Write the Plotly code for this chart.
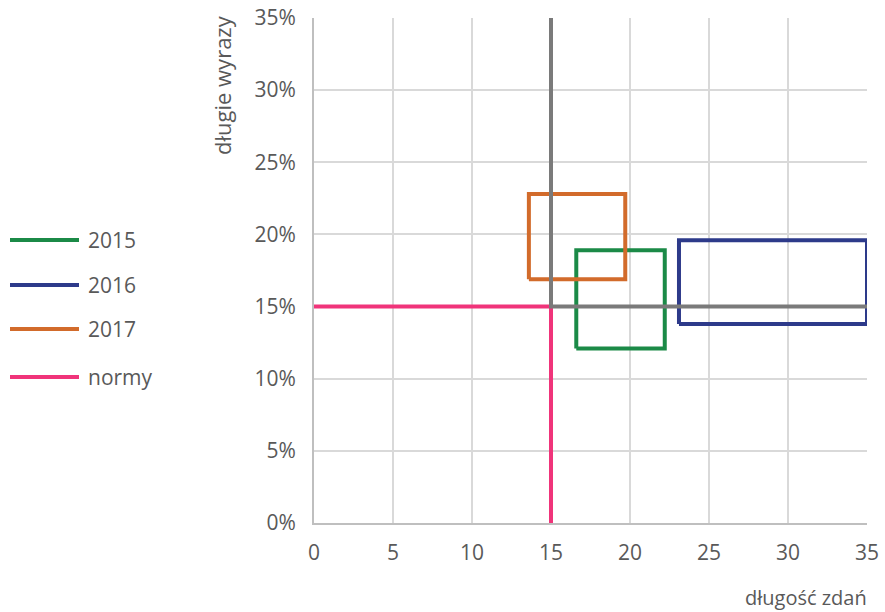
import plotly.graph_objects as go

# ---- data ----
series_names = ["2015", "2016", "2017"]
x_min = [16.6, 23.1, 13.6]      # długość zdań (from)
x_max = [22.2, 35.0, 19.7]      # długość zdań (to)
y_min = [12.1, 13.8, 16.9]      # długie wyrazy % (from)
y_max = [18.9, 19.6, 22.8]      # długie wyrazy % (to)
series_colors = ["#1b8a47", "#2d3a8a", "#d26b2b"]

norm_x = 15          # norma długości zdań
norm_y = 15          # norma długich wyrazów (%)
x_ticks = [0, 5, 10, 15, 20, 25, 30, 35]
y_ticks = [0, 5, 10, 15, 20, 25, 30, 35]
y_tick_labels = [f"{v}%" for v in y_ticks]

norm_color = "#f0347a"
quad_color = "#7a7a7a"
font_family = "'Open Sans', Roboto, sans-serif"
text_color = "#595959"

W, H = 885, 612
ml, mr, mt, mb = 314, 18, 18, 89
pw, ph = W - ml - mr, H - mt - mb


def px_to_paper(xpx, ypx):
    return (xpx - ml) / pw, 1 - (ypx - mt) / ph


fig = go.Figure()

# normy (pink): from axes to norm point
fig.add_trace(go.Scatter(
    x=[0, norm_x, norm_x], y=[norm_y, norm_y, 0], mode="lines",
    line=dict(color=norm_color, width=4), name="normy", showlegend=False,
    hoverinfo="skip"))

for name, x0, x1, y0, y1, c in zip(series_names, x_min, x_max, y_min, y_max, series_colors):
    fig.add_trace(go.Scatter(
        x=[x0, x1, x1, x0, x0], y=[y0, y0, y1, y1, y0], mode="lines",
        line=dict(color=c, width=4), name=name, showlegend=False))

# quadrant lines (gray)
fig.add_trace(go.Scatter(
    x=[norm_x, norm_x, x_ticks[-1]], y=[y_ticks[-1], norm_y, norm_y], mode="lines",
    line=dict(color=quad_color, width=4), showlegend=False, hoverinfo="skip"))

# custom legend (long line symbols like in the reference)
legend_names = series_names + ["normy"]
legend_colors = series_colors + [norm_color]
legend_y_px = [240, 285, 329, 377]
for n, c, ypx in zip(legend_names, legend_colors, legend_y_px):
    x0p, yp = px_to_paper(10, ypx)
    x1p, _ = px_to_paper(79, ypx)
    xtp, _ = px_to_paper(86, ypx)
    fig.add_shape(type="line", xref="paper", yref="paper", x0=x0p, x1=x1p, y0=yp, y1=yp,
                  line=dict(color=c, width=4))
    fig.add_annotation(xref="paper", yref="paper", x=xtp, y=yp, text=n,
                       showarrow=False, xanchor="left", yanchor="middle",
                       font=dict(size=21, color=text_color, family=font_family))

# axis titles
ax, ay = px_to_paper(222, 85)
fig.add_annotation(xref="paper", yref="paper", x=ax, y=ay,
                   text="długie wyrazy", textangle=-90, showarrow=False,
                   xanchor="center", yanchor="middle",
                   font=dict(size=22, color=text_color, family=font_family))
bx, by = px_to_paper(869, 597)
fig.add_annotation(xref="paper", yref="paper", x=bx, y=by,
                   text="długość zdań", showarrow=False, xanchor="right", yanchor="middle",
                   font=dict(size=20, color=text_color, family=font_family))

fig.update_layout(
    width=W, height=H,
    margin=dict(l=ml, r=mr, t=mt, b=mb, autoexpand=False),
    paper_bgcolor="white", plot_bgcolor="white",
    showlegend=False,
    font=dict(family=font_family, color=text_color, size=21),
    xaxis=dict(range=[x_ticks[0], x_ticks[-1]], tickvals=x_ticks,
               showgrid=True, gridcolor="#d9d9d9", gridwidth=2,
               showline=True, linecolor="#bfbfbf", linewidth=2,
               zeroline=False, ticks="", ticklabelstandoff=10,
               ticklabeloverflow="allow", automargin=False,
               tickfont=dict(size=21, color=text_color)),
    yaxis=dict(range=[y_ticks[0], y_ticks[-1]], tickvals=y_ticks, ticktext=y_tick_labels,
               showgrid=True, gridcolor="#d9d9d9", gridwidth=2,
               showline=True, linecolor="#bfbfbf", linewidth=2,
               zeroline=False, ticks="", ticklabelstandoff=12,
               ticklabeloverflow="allow", automargin=False,
               tickfont=dict(size=21, color=text_color)),
)

fig.write_html("out.html", config={"displayModeBar": False},
               post_script="document.body.style.margin='0';document.body.style.overflow='hidden';")
